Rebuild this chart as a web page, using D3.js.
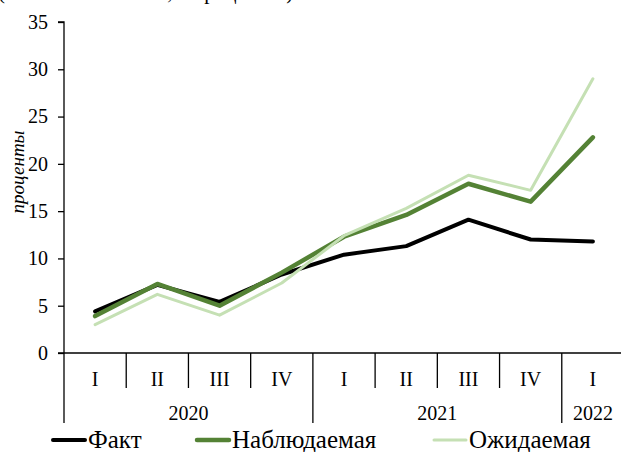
<!DOCTYPE html>
<html>
<head>
<meta charset="utf-8">
<script src="https://cdn.jsdelivr.net/npm/d3@7"></script>
</head>
<body style="margin:0; background:#fff">
<svg id="chart" width="621" height="452"></svg>
<script>
// Quarters and the years they belong to
const quarters = ["I", "II", "III", "IV", "I", "II", "III", "IV", "I"];
const years = [
  { label: "2020", from: 0, to: 4 },
  { label: "2021", from: 4, to: 8 },
  { label: "2022", from: 8, to: 9 }
];

// Series values, percent
const fact     = [4.4, 7.2, 5.4, 8.3, 10.4, 11.3, 14.1, 12.0, 11.8];
const observed = [3.9, 7.3, 5.0, 8.5, 12.3, 14.6, 17.9, 16.0, 22.8];
const expected = [3.0, 6.2, 4.0, 7.4, 12.4, 15.3, 18.8, 17.2, 29.0];

const yTicks = [0, 5, 10, 15, 20, 25, 30, 35];

const seriesNames = ["Факт", "Наблюдаемая", "Ожидаемая"];
const seriesColors = ["#000000", "#548235", "#c5e0b4"];
const seriesWidths = [4, 4.5, 3];
const seriesData = [fact, observed, expected];

const FONT = "Liberation Serif";
const svg = d3.select("#chart");
const axisColor = "#000";

const x = d3.scaleBand().domain(d3.range(quarters.length)).range([64, 624]).padding(0);
const y = d3.scaleLinear().domain([0, 35]).range([353, 22]);

// Caption above the plot (mostly outside the frame)
svg.append("text")
  .attr("x", -2).attr("y", -1)
  .attr("font-family", FONT)
  .attr("font-size", 21)
  .text("(мнение населения, в процентах)");

// Y axis
const yAxis = d3.axisLeft(y).tickValues(yTicks).tickSize(6).tickPadding(10).tickFormat(d3.format("d"));
const gy = svg.append("g").attr("transform", "translate(64,0)").call(yAxis);
gy.attr("font-family", FONT);
gy.select(".domain").attr("stroke", axisColor).attr("stroke-width", 1.3).attr("d", `M-6,${y(35)}H0V${y(0)}`);
gy.selectAll(".tick line").attr("stroke", axisColor).attr("stroke-width", 1.3);
gy.selectAll(".tick text").attr("font-family", FONT).attr("font-size", 20).attr("fill", "#000");

// Y axis title
svg.append("text")
  .attr("transform", "translate(24,172) rotate(-90)")
  .attr("text-anchor", "middle")
  .attr("font-family", FONT)
  .attr("font-size", 19)
  .attr("font-style", "italic")
  .text("проценты");

// Category axis: baseline, quarter dividers, year dividers
svg.append("line")
  .attr("x1", 58).attr("x2", 624).attr("y1", y(0)).attr("y2", y(0))
  .attr("stroke", axisColor).attr("stroke-width", 1.3);

const boundaries = d3.range(quarters.length + 1);
const yearEdges = new Set(years.flatMap(d => [d.from, d.to]));
svg.append("g").selectAll("line").data(boundaries).join("line")
  .attr("x1", i => i < quarters.length ? x(i) : x.range()[1])
  .attr("x2", i => i < quarters.length ? x(i) : x.range()[1])
  .attr("y1", y(0))
  .attr("y2", i => yearEdges.has(i) ? 423 : 388)
  .attr("stroke", axisColor).attr("stroke-width", 1.3);

svg.append("g").selectAll("text").data(quarters).join("text")
  .attr("x", (d, i) => x(i) + x.bandwidth() / 2)
  .attr("y", 386)
  .attr("text-anchor", "middle")
  .attr("font-family", FONT)
  .attr("font-size", 20)
  .text(d => d);

svg.append("g").selectAll("text").data(years).join("text")
  .attr("x", d => (x(d.from) + (d.to < quarters.length ? x(d.to) : x.range()[1])) / 2)
  .attr("y", 420)
  .attr("text-anchor", "middle")
  .attr("font-family", FONT)
  .attr("font-size", 20)
  .text(d => d.label);

// Series lines
const line = d3.line().x((d, i) => x(i) + x.bandwidth() / 2).y(d => y(d));
svg.append("g").selectAll("path").data(seriesData).join("path")
  .attr("d", d => line(d))
  .attr("fill", "none")
  .attr("stroke", (d, i) => seriesColors[i])
  .attr("stroke-width", (d, i) => seriesWidths[i])
  .attr("stroke-linejoin", "round")
  .attr("stroke-linecap", "round");

// Legend
const legendX = [53, 197, 434];
const lg = svg.append("g").selectAll("g").data(seriesNames).join("g")
  .attr("transform", (d, i) => `translate(${legendX[i]},440)`);
lg.append("line")
  .attr("x1", 0).attr("x2", 32).attr("y1", 0).attr("y2", 0)
  .attr("stroke", (d, i) => seriesColors[i])
  .attr("stroke-width", (d, i) => seriesWidths[i])
  .attr("stroke-linecap", "round");
lg.append("text")
  .attr("x", 35).attr("y", 8)
  .attr("font-family", FONT)
  .attr("font-size", 25)
  .text(d => d);
</script>
</body>
</html>
